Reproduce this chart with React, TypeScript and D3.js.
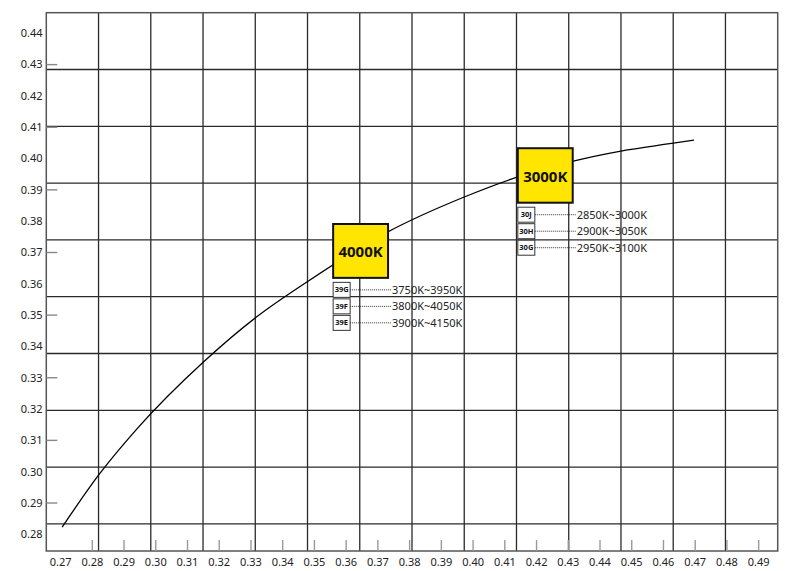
import React from "react";
import * as d3 from "d3";

// Curve (chromaticity locus) sampled from the chart
const curveX = [0.2705, 0.2822, 0.294, 0.3151, 0.3316, 0.3481, 0.373, 0.3974, 0.4143, 0.4316, 0.4466, 0.4631, 0.4696];
const curveY = [0.2823, 0.2992, 0.3136, 0.3351, 0.3493, 0.3609, 0.3765, 0.3878, 0.3942, 0.3992, 0.4024, 0.4049, 0.4059];

// Tick labels
const xTicks = [0.27, 0.28, 0.29, 0.3, 0.31, 0.32, 0.33, 0.34, 0.35, 0.36, 0.37, 0.38, 0.39, 0.4, 0.41, 0.42, 0.43, 0.44, 0.45, 0.46, 0.47, 0.48, 0.49];
const yTicks = [0.28, 0.29, 0.3, 0.31, 0.32, 0.33, 0.34, 0.35, 0.36, 0.37, 0.38, 0.39, 0.4, 0.41, 0.42, 0.43, 0.44];

// CCT bins (boxes in chromaticity coordinates)
const binNames = ["4000K", "3000K"];
const binX0 = [0.3559, 0.4141];
const binX1 = [0.3732, 0.4314];
const binY0 = [0.3619, 0.3859];
const binY1 = [0.3791, 0.4033];
const subCodes = [["39G", "39F", "39E"], ["30J", "30H", "30G"]];
const subRanges = [["3750K~3950K", "3800K~4050K", "3900K~4150K"], ["2850K~3000K", "2900K~3050K", "2950K~3100K"]];

const W = 789, H = 571;
const L = 46.3, R = 777.7, T = 12.7, B = 551;

export default function App() {
  const x = d3.scaleLinear().domain([0.2655, 0.496]).range([L, R]);
  const y = d3.scaleLinear().domain([0.27467, 0.44658]).range([B, T]);
  const pts: [number, number][] = curveX.map((v, i) => [v, curveY[i]]);
  const line = d3.line<[number, number]>().x(d => x(d[0])).y(d => y(d[1])).curve(d3.curveMonotoneX);

  const colW = (R - L) / 14;
  const rowH = 56.8;
  const vLines = d3.range(1, 14).map(k => L + k * colW);
  const hLines = d3.range(1, 10).map(k => T + k * rowH);
  const font = "'Noto Sans', 'Open Sans', sans-serif";

  return (
    <svg width={W} height={H} style={{ position: "absolute", left: 0, top: 0, display: "block", background: "#fff" }}>
      <rect x={0} y={0} width={W} height={H} fill="#fff" />
      {/* grid */}
      {vLines.map((v, i) => <line key={"v" + i} x1={v} x2={v} y1={T} y2={B} stroke="#2a2a2a" strokeWidth={1.3} />)}
      {hLines.map((v, i) => <line key={"h" + i} x1={L} x2={R} y1={v} y2={v} stroke="#2a2a2a" strokeWidth={1.3} />)}
      <rect x={L} y={T} width={R - L} height={B - T} fill="none" stroke="#555" strokeWidth={1.5} />
      {/* x ticks */}
      {xTicks.map((t, i) => (
        <g key={"xt" + i}>
          {t >= 0.275 && <line x1={x(t)} x2={x(t)} y1={B - 11} y2={B} stroke="#999" strokeWidth={1.4} />}
          <text x={x(t)} y={566} textAnchor="middle" fontFamily={font} fontSize={11} fill="#222">{t.toFixed(2)}</text>
        </g>
      ))}
      {/* y ticks */}
      {yTicks.map((t, i) => (
        <g key={"yt" + i}>
          {Math.round(t * 100) % 2 === 1 && <line x1={L} x2={L + 11} y1={y(t)} y2={y(t)} stroke="#888" strokeWidth={1.4} />}
          <text x={42.5} y={y(t)} dy="0.35em" textAnchor="end" fontFamily={font} fontSize={11} fill="#222">{t.toFixed(2)}</text>
        </g>
      ))}
      {/* curve */}
      <path d={line(pts) || ""} fill="none" stroke="#000" strokeWidth={1.3} />
      {/* bins */}
      {binNames.map((n, i) => {
        const bx = x(binX0[i]), bx1 = x(binX1[i]);
        const by = y(binY1[i]), by1 = y(binY0[i]);
        const bw = bx1 - bx, bh = by1 - by;
        return (
          <g key={"b" + i}>
            <rect x={bx} y={by} width={bw} height={bh} fill="#FFE500" stroke="#111" strokeWidth={2} />
            <text x={bx + bw / 2} y={by + bh / 2 + 1} dy="0.35em" textAnchor="middle" fontFamily={font} fontWeight="bold" fontSize={15} fill="#111">{n}</text>
            {subCodes[i].map((c, j) => {
              const cy = by1 + 12 + j * 16.5;
              return (
                <g key={c}>
                  <line x1={bx + 17} x2={bx1 + 3} y1={cy} y2={cy} stroke="#333" strokeWidth={1} strokeDasharray="1,1" />
                  <rect x={bx} y={cy - 7.5} width={17} height={15} fill="#fff" stroke="#333" strokeWidth={1} />
                  <text x={bx + 8.5} y={cy} dy="0.35em" textAnchor="middle" fontFamily={font} fontWeight="bold" fontSize={7.5} fill="#111">{c}</text>
                  <text x={bx1 + 4} y={cy} dy="0.35em" fontFamily={font} fontSize={11} fill="#222">{subRanges[i][j]}</text>
                </g>
              );
            })}
          </g>
        );
      })}
    </svg>
  );
}
